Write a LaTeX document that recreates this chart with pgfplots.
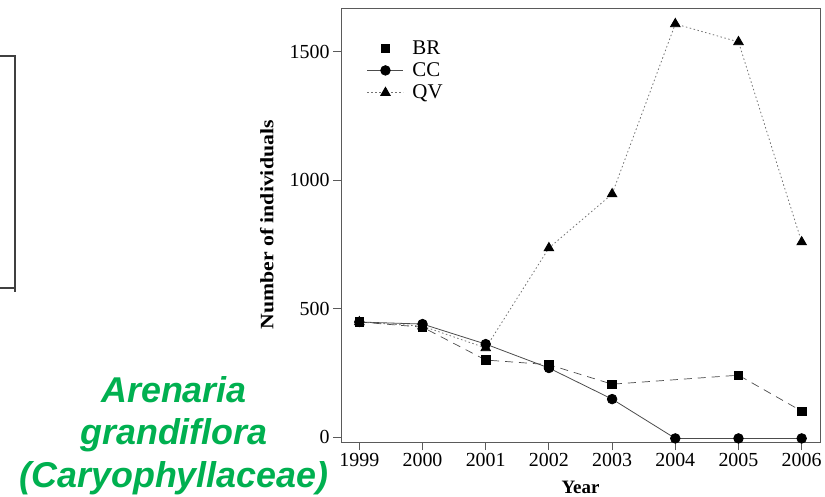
\documentclass[border=0pt]{standalone}
\usepackage{fontspec}
\setmainfont{Liberation Serif}
\newfontfamily\greenfont{Liberation Sans}
\usepackage{pgfplots}
\pgfplotsset{compat=1.18}
\definecolor{spgreen}{RGB}{0,176,80}
\definecolor{axgray}{RGB}{90,90,90}
\pgfplotsset{
  linelegend/.style={legend image code/.code={\path[draw=none,fill=none] (43bp,0bp); \draw[##1] (0bp,0bp) -- (36bp,0bp) plot coordinates {(18bp,0bp)};}},
  marklegend/.style={legend image code/.code={\path[draw=none,fill=none] (43bp,0bp); \draw[##1] plot coordinates {(18bp,0bp)};}},
}
\begin{document}
\begin{tikzpicture}
\path[use as bounding box] (0bp,0bp) rectangle (825bp,-497bp);
\draw[line width=1.3bp, black!75] (0bp,-56bp) -- (15bp,-56bp) -- (15bp,-292bp);
\draw[line width=1.3bp, black!75] (0bp,-288bp) -- (15bp,-288bp);
\begin{axis}[
  scale only axis,
  width=479bp, height=434bp,
  at={(341bp,-442bp)}, anchor=south west,
  xmin=1998.71, xmax=2006.29,
  ymin=-19, ymax=1670,
  axis line style={axgray, line width=0.8bp},
  xtick={1999,...,2006},
  ytick={0,500,1000,1500},
  /pgf/number format/1000 sep={},
  /pgf/number format/assume math mode=true,
  tick label style={font=\fontsize{20}{22}\selectfont, black},
  xtick pos=bottom, ytick pos=left,
  tick align=outside,
  major tick length=8bp,
  tick style={axgray, line width=0.8bp},
  xlabel={\textbf{Year}},
  ylabel={\scalebox{1.15}[1]{\textbf{Number of individuals}}},
  label style={font=\fontsize{19}{22}\selectfont},
  xlabel style={at={(axis description cs:0.5,0)}, anchor=north, yshift=-36bp},
  ylabel style={at={(axis description cs:0,0.5)}, anchor=south, yshift=64bp},
  legend cell align=left,
  legend style={draw=none, fill=none, at={(0.054,0.93)}, anchor=north west,
    font=\fontsize{21}{21}\selectfont, row sep=3bp, inner sep=0bp},
  linelegend,
]
\addplot[black!70, line width=0.7bp, dash pattern=on 8bp off 6bp,
  mark=square*, mark size=4.3bp, mark options={solid, black}, marklegend]
  coordinates {(1999,448) (2000,428) (2001,300) (2002,282) (2003,206) (2005,241) (2006,101)};
\addlegendentry{BR}
\addplot[black!70, line width=0.8bp,
  mark=*, mark size=4.8bp, mark options={solid, black}]
  coordinates {(1999,448) (2000,440) (2001,362) (2002,269) (2003,148) (2004,-5) (2005,-5) (2006,-5)};
\addlegendentry{CC}
\addplot[black!55, line width=0.8bp, dash pattern=on 1.5bp off 2.5bp,
  mark=triangle*, mark size=5.5bp, mark options={solid, black}]
  coordinates {(1999,448) (2000,432) (2001,347) (2002,736) (2003,946) (2004,1608) (2005,1538) (2006,759)};
\addlegendentry{QV}
\end{axis}
\node[anchor=base, text=spgreen, font=\greenfont\bfseries\itshape\fontsize{36}{43}\selectfont] at (174bp,-402bp) {Arenaria};
\node[anchor=base, text=spgreen, font=\greenfont\bfseries\itshape\fontsize{36}{43}\selectfont] at (174bp,-444bp) {grandiflora};
\node[anchor=base, text=spgreen, font=\greenfont\bfseries\itshape\fontsize{36}{43}\selectfont] at (174bp,-487bp) {(Caryophyllaceae)};
\end{tikzpicture}
\end{document}
